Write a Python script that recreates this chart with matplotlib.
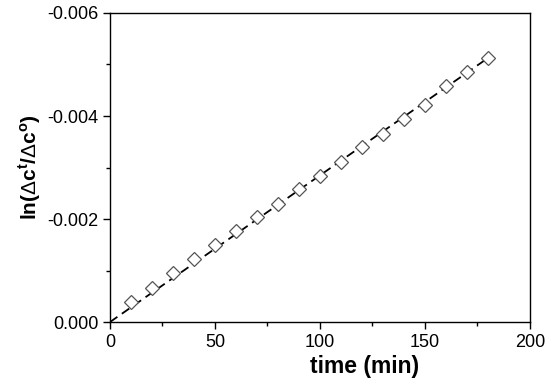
import numpy as np
import matplotlib
matplotlib.use("Agg")
import matplotlib.pyplot as plt
from matplotlib.ticker import MultipleLocator, FormatStrFormatter

plt.rcParams['font.family'] = ['Liberation Sans', 'DejaVu Sans']
plt.rcParams['mathtext.fontset'] = 'custom'
plt.rcParams['mathtext.bf'] = 'Liberation Sans:bold'
plt.rcParams['mathtext.rm'] = 'Liberation Sans'

time_min = [10, 20, 30, 40, 50, 60, 70, 80, 90, 100, 110, 120, 130, 140, 150, 160, 170, 180]
ln_ratio = [-0.00038, -0.00067, -0.00095, -0.00122, -0.00150, -0.00177, -0.00203, -0.00230,
            -0.00258, -0.00284, -0.00311, -0.00339, -0.00366, -0.00394, -0.00421, -0.00458,
            -0.00486, -0.00512]

t = np.array(time_min, dtype=float)
y = np.array(ln_ratio)
slope = np.sum(t * y) / np.sum(t * t)
fit_t = np.array([0.0, 180.0])
fit_y = slope * fit_t

fig = plt.figure(figsize=(5.5, 3.82), dpi=100)
ax = fig.add_axes([0.2, 0.157, 0.7636, 0.809])

ax.plot(fit_t, fit_y, color='black', linestyle=(0, (5, 3)), linewidth=1.3, zorder=2)
ax.plot(t, y, linestyle='none', marker='D', markersize=7, markerfacecolor='white',
        markeredgecolor='#555555', markeredgewidth=0.9, zorder=3)

ax.set_xlim(0, 200)
ax.set_ylim(0, -0.006)
ax.xaxis.set_major_locator(MultipleLocator(50))
ax.xaxis.set_minor_locator(MultipleLocator(25))
ax.yaxis.set_major_locator(MultipleLocator(0.002))
ax.yaxis.set_minor_locator(MultipleLocator(0.001))
ax.yaxis.set_major_formatter(FormatStrFormatter('%.3f'))

ax.tick_params(which='both', direction='out', top=False, right=False, labelsize=13, width=1)
ax.tick_params(which='major', length=5)
ax.tick_params(which='minor', length=3)
for s in ax.spines.values():
    s.set_linewidth(1.0)

ax.set_xlabel('time (min)', fontsize=16.5, fontweight='bold')
ax.xaxis.set_label_coords(0.607, -0.108)
ax.set_ylabel(r'ln($\Delta$c$^\mathbf{t}$/$\Delta$c$^\mathbf{o}$)', fontsize=15, fontweight='bold', labelpad=3)

fig.savefig('out.png', dpi=100)
